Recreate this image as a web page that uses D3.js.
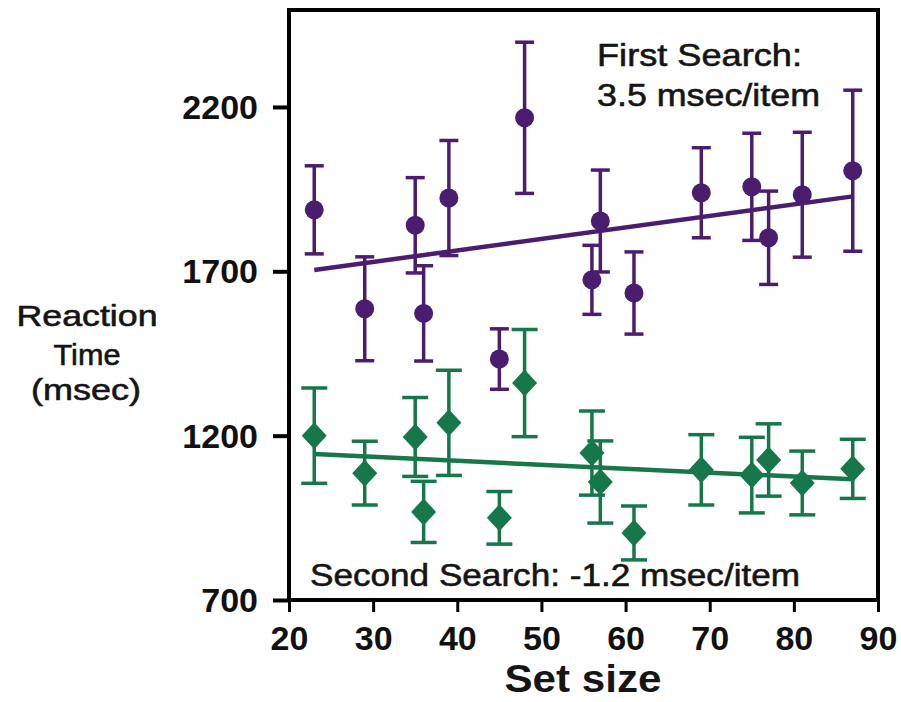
<!DOCTYPE html>
<html>
<head>
<meta charset="utf-8">
<script src="https://cdn.jsdelivr.net/npm/d3@7"></script>
<style>
  html, body { margin: 0; padding: 0; background: #fff; }
  svg { display: block; font-family: "Liberation Sans", Arial, Helvetica, sans-serif; }
</style>
</head>
<body>
<svg id="chart" width="901" height="702"></svg>
<script>
// ---- data ----
const setSizes = [23, 29, 35, 36, 39, 45, 48, 56, 57, 61, 69, 75, 77, 81, 87];
const firstRT   = [1887, 1586, 1840, 1572, 1923, 1433, 2167, 1674, 1853, 1634, 1939, 1957, 1802, 1933, 2006];
const firstErr  = [134, 158, 145, 145, 175, 92, 230, 105, 155, 125, 137, 163, 142, 190, 245];
const secondRT  = [1200, 1086, 1196, 968, 1239, 950, 1360, 1147, 1059, 904, 1096, 1080, 1126, 1056, 1099];
const secondErr = [145, 97, 120, 93, 160, 80, 163, 128, 125, 82, 107, 115, 110, 97, 90];
const fitX      = [23, 87];
const firstFit  = [1704, 1928];
const secondFit = [1144, 1067];
const xTicks = [20, 30, 40, 50, 60, 70, 80, 90];
const yTicks = [700, 1200, 1700, 2200];

// ---- styling ----
const purple = "#4a1d6e";
const green = "#16774b";
const svg = d3.select("#chart");
const mLeft = 289, mRight = 878, mTop = 10, mBottom = 600;

const x = d3.scaleLinear().domain([20, 90]).range([mLeft, mRight]);
const y = d3.scaleLinear().domain([700, 2495]).range([mBottom, mTop]);

// axes
const gx = svg.append("g").attr("transform", `translate(0,${mBottom})`)
  .call(d3.axisBottom(x).tickValues(xTicks).tickSize(12).tickPadding(14).tickFormat(d3.format("d")));
gx.select(".domain").remove();
gx.selectAll("line").attr("stroke", "#000").attr("stroke-width", 3);
gx.selectAll("text").attr("font-size", 34).attr("font-weight", "bold").attr("fill", "#111");

const gy = svg.append("g").attr("transform", `translate(${mLeft},0)`)
  .call(d3.axisLeft(y).tickValues(yTicks).tickSize(16).tickPadding(15).tickFormat(d3.format("d")));
gy.select(".domain").remove();
gy.selectAll("line").attr("stroke", "#000").attr("stroke-width", 4);
gy.selectAll("text").attr("font-size", 34).attr("font-weight", "bold").attr("fill", "#111")
  .attr("dy", "0.34em");

// frame
svg.append("rect").attr("x", mLeft).attr("y", mTop)
  .attr("width", mRight - mLeft).attr("height", mBottom - mTop)
  .attr("fill", "none").attr("stroke", "#000").attr("stroke-width", 4);

const line = d3.line().x(d => x(d[0])).y(d => y(d[1]));

function drawSeries(vals, errs, fit, color, capHalf, marker) {
  const g = svg.append("g");
  g.append("path").datum(fitX.map((v, i) => [v, fit[i]]))
    .attr("d", line).attr("fill", "none").attr("stroke", color).attr("stroke-width", 4.5);
  const pts = setSizes.map((s, i) => ({ s, v: vals[i], e: errs[i] }));
  const eb = g.selectAll(".eb").data(pts).enter().append("g");
  eb.append("line").attr("x1", d => x(d.s)).attr("x2", d => x(d.s))
    .attr("y1", d => y(d.v - d.e)).attr("y2", d => y(d.v + d.e))
    .attr("stroke", color).attr("stroke-width", 3.5);
  [1, -1].forEach(sign => {
    eb.append("line").attr("x1", d => x(d.s) - capHalf).attr("x2", d => x(d.s) + capHalf)
      .attr("y1", d => y(d.v + sign * d.e)).attr("y2", d => y(d.v + sign * d.e))
      .attr("stroke", color).attr("stroke-width", 3.5);
  });
  if (marker === "circle") {
    g.selectAll(".m").data(pts).enter().append("circle")
      .attr("cx", d => x(d.s)).attr("cy", d => y(d.v)).attr("r", 9.5).attr("fill", color);
  } else {
    g.selectAll(".m").data(pts).enter().append("path")
      .attr("transform", d => `translate(${x(d.s)},${y(d.v)})`)
      .attr("d", "M0,-13.5L12.5,0L0,13.5L-12.5,0Z").attr("fill", color);
  }
}
drawSeries(secondRT, secondErr, secondFit, green, 13, "diamond");
drawSeries(firstRT, firstErr, firstFit, purple, 9.5, "circle");

// annotations
function label(txt, tx, ty, size, len, opts = {}) {
  const t = svg.append("text").attr("x", tx).attr("y", ty).attr("font-size", size)
    .attr("fill", "#151515").text(txt);
  if (opts.anchor) t.attr("text-anchor", opts.anchor);
  if (opts.bold) t.attr("font-weight", "bold");
  else t.attr("stroke", "#151515").attr("stroke-width", 0.6);
  if (len) t.attr("textLength", len).attr("lengthAdjust", "spacingAndGlyphs");
  return t;
}
label("First Search:", 597, 66, 32, 205);
label("3.5 msec/item", 597, 106, 32, 223);
label("Second Search: -1.2 msec/item", 310, 586, 32, 490);
label("Reaction", 87, 326, 30, 141, { anchor: "middle" });
label("Time", 87, 365, 30, 67, { anchor: "middle" });
label("(msec)", 86, 400, 30, 110, { anchor: "middle" });
label("Set size", 583, 692, 38, 157, { anchor: "middle", bold: true });
</script>
</body>
</html>
